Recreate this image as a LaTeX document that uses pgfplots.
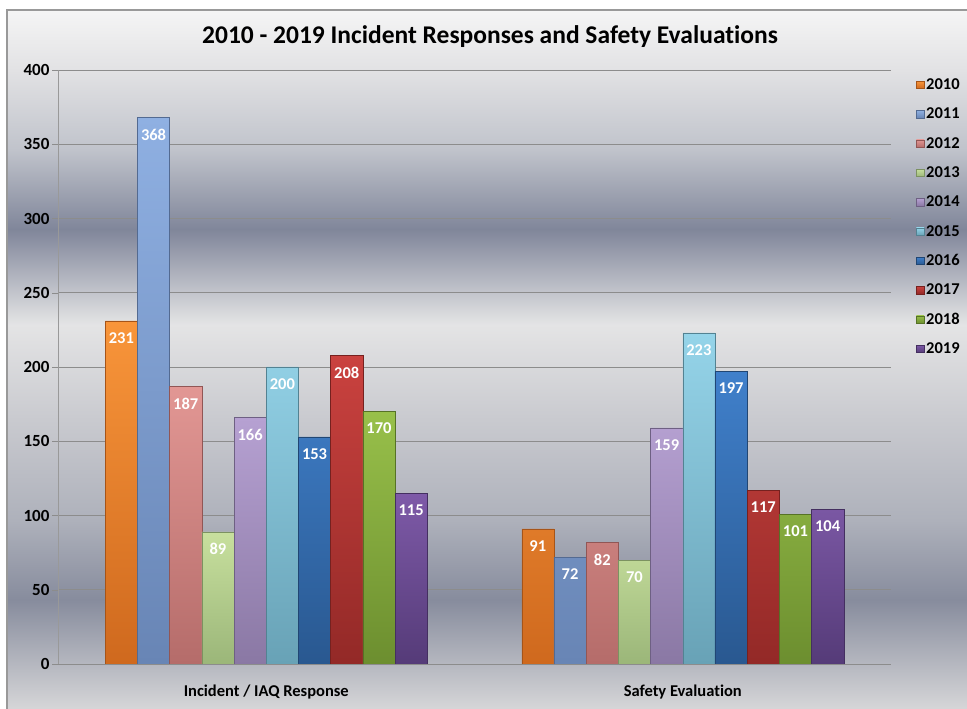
\documentclass[border=0pt]{standalone}
\usepackage{pgfplots}
\pgfplotsset{compat=1.18}
\usepackage{fontspec}
\setmainfont{Carlito}[Ligatures=NoCommon]
\definecolor{bg0}{HTML}{D6D6D8}
\definecolor{bg1}{HTML}{878C9D}
\definecolor{bg2}{HTML}{AEB1BB}
\definecolor{bg3}{HTML}{C9CACF}
\definecolor{bg4}{HTML}{E4E4E5}
\definecolor{bg5}{HTML}{80869A}
\definecolor{bg6}{HTML}{C0C3CB}
\definecolor{bg7}{HTML}{E2E2E4}
\definecolor{bg8}{HTML}{F5F5F5}
\pgfdeclareverticalshading{bgshade}{100bp}{color(0bp)=(bg0); color(25bp)=(bg0); color(32.8bp)=(bg1); color(38.5bp)=(bg2); color(45.7bp)=(bg3); color(52.5bp)=(bg4); color(59.3bp)=(bg5); color(65bp)=(bg6); color(70.7bp)=(bg7); color(75bp)=(bg8); color(100bp)=(bg8)}
\definecolor{t0}{HTML}{F8953A}\definecolor{b0}{HTML}{CF691E}
\definecolor{t1}{HTML}{8FB0E2}\definecolor{b1}{HTML}{6885B5}
\definecolor{t2}{HTML}{E29794}\definecolor{b2}{HTML}{B56C6A}
\definecolor{t3}{HTML}{C8E09E}\definecolor{b3}{HTML}{9BB679}
\definecolor{t4}{HTML}{B6A1D2}\definecolor{b4}{HTML}{8A78A4}
\definecolor{t5}{HTML}{95D4E9}\definecolor{b5}{HTML}{68A2B6}
\definecolor{t6}{HTML}{4080CB}\definecolor{b6}{HTML}{295890}
\definecolor{t7}{HTML}{CA423F}\definecolor{b7}{HTML}{932927}
\definecolor{t8}{HTML}{98C04A}\definecolor{b8}{HTML}{6C8E2F}
\definecolor{t9}{HTML}{7E5AA8}\definecolor{b9}{HTML}{553B78}
\pgfplotsset{sqleg/.style={legend image code/.code={\draw[##1] (0pt,-3.8pt) rectangle (7.6pt,3.8pt);}}}
\begin{document}
\begin{tikzpicture}[x=1pt,y=1pt]
\fill[white] (0,0) rectangle (967,709);
\shade[shading=bgshade] (7,0) rectangle (967,699);
\draw[black!40, line width=1.2pt] (7,0) -- (7,699) -- (967,699);
\node[font=\bfseries\fontsize{25.5}{30}\selectfont] at (490,672) {2010 - 2019 Incident Responses and Safety Evaluations};
\begin{axis}[
  at={(58pt,45pt)}, anchor=south west,
  scale only axis, width=833pt, height=594pt,
  ybar=0pt, bar width=32.2pt,
  xmin=-0.5, xmax=1.5, ymin=0, ymax=400,
  xtick={0,1}, xticklabels={Incident / IAQ Response, Safety Evaluation},
  ytick={0,50,...,400},
  axis lines=left, axis line style={-, draw=black!40},
  x axis line style={draw=black!45},
  xtick style={draw=none},
  ytick style={draw=black!45},
  tick align=outside, major tick length=6pt,
  ymajorgrids, grid style={draw=black!45, line width=0.8pt},
  /pgf/number format/assume math mode=true,
  ticklabel style={font=\bfseries\fontsize{17}{20}\selectfont, text=black},
  yticklabel style={xshift=1pt},
  xticklabel style={font=\bfseries\fontsize{16.5}{20}\selectfont, yshift=-11pt},
  nodes near coords,
  every node near coord/.append style={anchor=north, yshift=-8pt, text=white, font=\bfseries\fontsize{16.5}{19}\selectfont},
  every axis plot post/.append style={sqleg},
  legend style={at={(rel axis cs:1,1)}, anchor=north west, xshift=25pt, draw=none, fill=none,
    font=\bfseries\fontsize{16.5}{19}\selectfont, inner sep=0pt, row sep=0pt,
    nodes={minimum height=29.33pt, inner sep=2pt}},
  legend cell align=left,
]
\addplot[top color=t0, bottom color=b0, draw=b0!80!black] coordinates {(0,231) (1,91)};
\addplot[top color=t1, bottom color=b1, draw=b1!80!black] coordinates {(0,368) (1,72)};
\addplot[top color=t2, bottom color=b2, draw=b2!80!black] coordinates {(0,187) (1,82)};
\addplot[top color=t3, bottom color=b3, draw=b3!80!black] coordinates {(0,89) (1,70)};
\addplot[top color=t4, bottom color=b4, draw=b4!80!black] coordinates {(0,166) (1,159)};
\addplot[top color=t5, bottom color=b5, draw=b5!80!black] coordinates {(0,200) (1,223)};
\addplot[top color=t6, bottom color=b6, draw=b6!80!black] coordinates {(0,153) (1,197)};
\addplot[top color=t7, bottom color=b7, draw=b7!80!black] coordinates {(0,208) (1,117)};
\addplot[top color=t8, bottom color=b8, draw=b8!80!black] coordinates {(0,170) (1,101)};
\addplot[top color=t9, bottom color=b9, draw=b9!80!black] coordinates {(0,115) (1,104)};
\legend{2010,2011,2012,2013,2014,2015,2016,2017,2018,2019}
\end{axis}
\pgfresetboundingbox
\path (0,0) rectangle (967,709);
\end{tikzpicture}
\end{document}
